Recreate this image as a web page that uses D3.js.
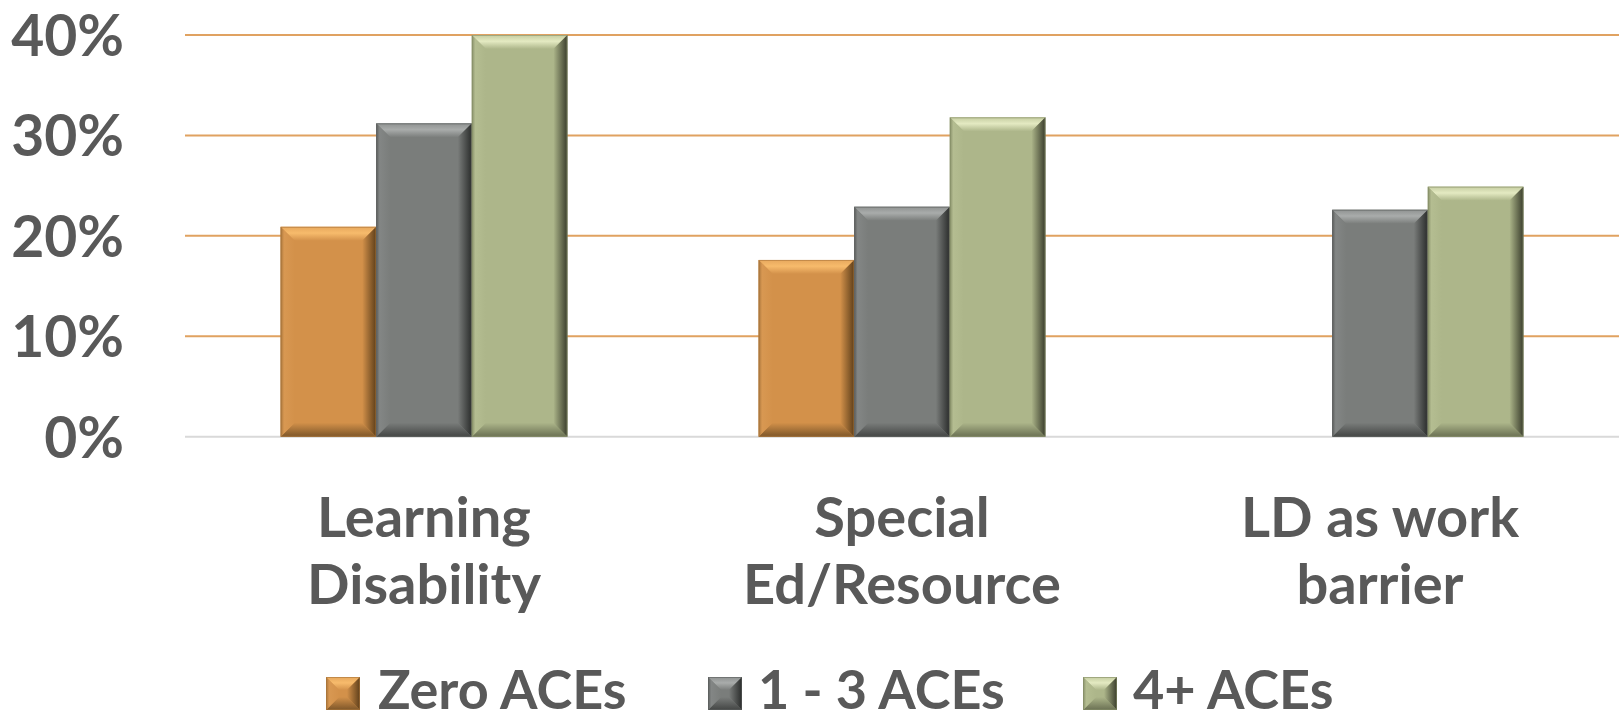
<!DOCTYPE html>
<html>
<head>
<meta charset="utf-8">
<script src="https://cdn.jsdelivr.net/npm/d3@7/dist/d3.min.js"></script>
<style>
  html, body { margin: 0; padding: 0; background: #ffffff; }
  svg { display: block; }
  text { font-family: Lato, "Open Sans", sans-serif; font-weight: 700; fill: #595959; }
</style>
</head>
<body>
<svg id="chart" width="1619" height="721"></svg>
<script>
// Category labels (two lines each), series names and values
const categories = ["Learning Disability", "Special Ed/Resource", "LD as work barrier"];
const categoryLines = [["Learning", "Disability"], ["Special", "Ed/Resource"], ["LD as work", "barrier"]];
const seriesNames = ["Zero ACEs", "1 - 3 ACEs", "4+ ACEs"];
const zeroAces = [0.209, 0.176, null];
const oneToThreeAces = [0.312, 0.229, 0.226];
const fourPlusAces = [0.400, 0.318, 0.249];
const yTicks = [0, 0.1, 0.2, 0.3, 0.4];

const seriesValues = [zeroAces, oneToThreeAces, fourPlusAces];

// Bevelled fill palette per series: face, top light, left, right dark, bottom dark
const palette = [
  { face: "#d3914a", top: "#f7bb6c", topMid: "#e7a85d", left: "#d89852", right: "#5f3f1a", bottom: "#7d5629", stroke: "#a8743a" },
  { face: "#7a7d7b", top: "#a9acab", topMid: "#8f9291", left: "#838685", right: "#2a2c2b", bottom: "#434544", stroke: "#5c5f5e" },
  { face: "#adb68a", top: "#e4eac2", topMid: "#c5cda1", left: "#b4bd91", right: "#3a3d2c", bottom: "#6a7053", stroke: "#868e68" }
];

const svg = d3.select("#chart");
const margin = { left: 185, right: 0, top: 35, zero: 436.7 };

const x0 = d3.scaleBand()
  .domain(categories)
  .range([margin.left, 1619])
  .paddingInner(0.4)
  .paddingOuter(0.2);

const x1 = d3.scaleBand()
  .domain(seriesNames)
  .range([0, x0.bandwidth()])
  .padding(0);

const y = d3.scaleLinear()
  .domain([0, 0.4])
  .range([margin.zero, margin.top]);

// Gradients
const defs = svg.append("defs");
palette.forEach((p, i) => {
  const gTop = defs.append("linearGradient").attr("id", `top${i}`)
    .attr("x1", 0).attr("y1", 0).attr("x2", 0).attr("y2", 1);
  gTop.append("stop").attr("offset", "0%").attr("stop-color", p.topMid);
  gTop.append("stop").attr("offset", "45%").attr("stop-color", p.top);
  gTop.append("stop").attr("offset", "100%").attr("stop-color", p.face);

  const gRight = defs.append("linearGradient").attr("id", `right${i}`)
    .attr("x1", 0).attr("y1", 0).attr("x2", 1).attr("y2", 0);
  gRight.append("stop").attr("offset", "0%").attr("stop-color", p.face);
  gRight.append("stop").attr("offset", "100%").attr("stop-color", p.right);

  const gBottom = defs.append("linearGradient").attr("id", `bottom${i}`)
    .attr("x1", 0).attr("y1", 0).attr("x2", 0).attr("y2", 1);
  gBottom.append("stop").attr("offset", "0%").attr("stop-color", p.face);
  gBottom.append("stop").attr("offset", "100%").attr("stop-color", p.bottom);

  const gLeft = defs.append("linearGradient").attr("id", `left${i}`)
    .attr("x1", 0).attr("y1", 0).attr("x2", 1).attr("y2", 0);
  gLeft.append("stop").attr("offset", "0%").attr("stop-color", p.stroke);
  gLeft.append("stop").attr("offset", "25%").attr("stop-color", p.left);
  gLeft.append("stop").attr("offset", "100%").attr("stop-color", p.face);
});

// Gridlines
const grid = svg.append("g");
grid.selectAll("line")
  .data(yTicks)
  .join("line")
  .attr("x1", margin.left)
  .attr("x2", 1619)
  .attr("y1", d => y(d))
  .attr("y2", d => y(d))
  .attr("stroke", d => d === 0 ? "#d9d9d9" : "#e0a261")
  .attr("stroke-width", 2);

// Y axis labels
const yAxis = d3.axisLeft(y).tickValues(yTicks).tickFormat(d3.format(".0%")).tickSize(0).tickPadding(0);
const yG = svg.append("g").attr("transform", "translate(124,0)").call(yAxis);
yG.select(".domain").remove();
yG.selectAll("text")
  .attr("font-size", 57)
  .attr("font-family", "Lato, sans-serif")
  .attr("font-weight", 700)
  .attr("fill", "#595959")
  .attr("dy", "0.36em");

// Draw a bevelled box
function bevelBox(g, bx, by, bw, bh, b, i) {
  const p = palette[i];
  const xr = bx + bw, yb = by + bh;
  const bb = Math.min(b, bw / 2, bh / 2);
  g.append("rect").attr("x", bx).attr("y", by).attr("width", bw).attr("height", bh).attr("fill", p.face);
  const poly = (pts, fill) => g.append("polygon").attr("points", pts.map(q => q.join(",")).join(" ")).attr("fill", fill);
  poly([[bx, by], [xr, by], [xr - bb, by + bb], [bx + bb, by + bb]], `url(#top${i})`);
  poly([[bx, yb], [xr, yb], [xr - bb, yb - bb], [bx + bb, yb - bb]], `url(#bottom${i})`);
  poly([[bx, by], [bx + bb, by + bb], [bx + bb, yb - bb], [bx, yb]], `url(#left${i})`);
  poly([[xr, by], [xr - bb, by + bb], [xr - bb, yb - bb], [xr, yb]], `url(#right${i})`);
  g.append("rect").attr("x", bx + 0.5).attr("y", by + 0.5).attr("width", bw - 1).attr("height", bh - 1)
    .attr("fill", "none").attr("stroke", p.stroke).attr("stroke-width", 1).attr("stroke-opacity", 0.6);
}

// Bars
const barsG = svg.append("g");
categories.forEach((cat, ci) => {
  seriesNames.forEach((s, si) => {
    const v = seriesValues[si][ci];
    if (v == null) return;
    const bx = x0(cat) + x1(s);
    const by = y(v);
    bevelBox(barsG.append("g"), bx, by, x1.bandwidth(), y(0) - by, 14, si);
  });
});

// Category labels
const catG = svg.append("g");
categories.forEach((cat, ci) => {
  const cx = x0(cat) + x0.bandwidth() / 2;
  categoryLines[ci].forEach((line, li) => {
    catG.append("text")
      .attr("x", cx)
      .attr("y", 537 + li * 67)
      .attr("text-anchor", "middle")
      .attr("font-size", 56)
      .text(line);
  });
});

// Legend
const legendItems = [
  { name: seriesNames[0], sx: 326, tx: 378 },
  { name: seriesNames[1], sx: 708, tx: 758 },
  { name: seriesNames[2], sx: 1083, tx: 1133 }
];
const legG = svg.append("g");
legendItems.forEach((d, i) => {
  bevelBox(legG.append("g"), d.sx, 677, 34, 33, 13, i);
  legG.append("text")
    .attr("x", d.tx)
    .attr("y", 709)
    .attr("font-size", 54)
    .text(d.name);
});
</script>
</body>
</html>
